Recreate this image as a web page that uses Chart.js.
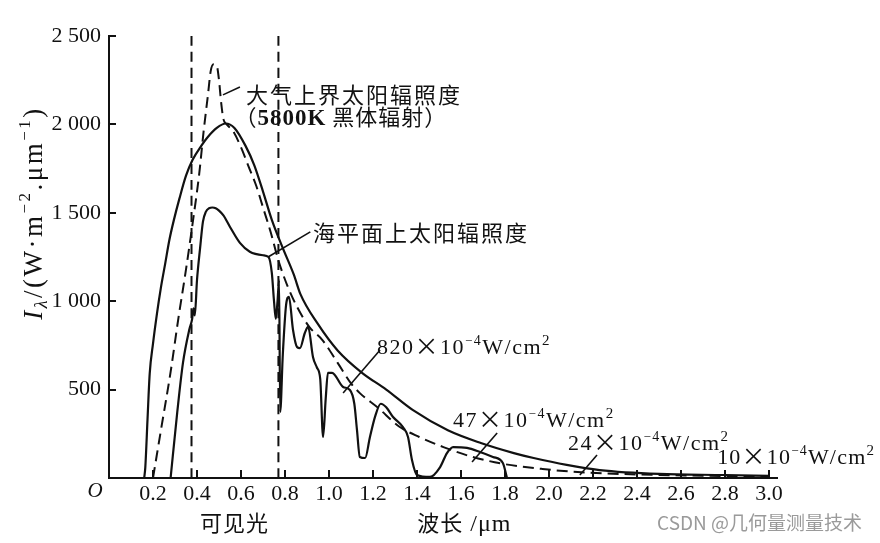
<!DOCTYPE html>
<html><head><meta charset="utf-8">
<script src="https://cdn.jsdelivr.net/npm/chart.js@4.4.1/dist/chart.umd.min.js"></script>
<style>html,body{margin:0;padding:0;background:#fff}canvas{display:block}</style>
</head><body>
<canvas id="c" width="880" height="543"></canvas>
<script>
// ---- data (wavelength in μm, irradiance in W·m^-2·μm^-1) ----
const blackbodyX = [0.16,0.165,0.175,0.185,0.2,0.218,0.235,0.255,0.275,0.295,0.32,0.35,0.38,0.42,0.45,0.49,0.53,0.57,0.62,0.66,0.7,0.74,0.79,0.84,0.87,0.95,1.04,1.15,1.26,1.38,1.54,1.69,1.84,1.93,2.08,2.23,2.5,2.8,3.0];
const blackbodyY = [0,60,330,590,760,930,1070,1210,1350,1460,1580,1710,1800,1880,1930,1980,2005,1980,1880,1770,1620,1460,1300,1150,1040,870,720,595,500,385,270,198,141,113,74,45,23,17,12];

const extraX = [0.2,0.24,0.28,0.315,0.35,0.38,0.41,0.43,0.45,0.462,0.475,0.49,0.5,0.51,0.52,0.535,0.565,0.6,0.635,0.67,0.7,0.735,0.77,0.81,0.855,0.91,0.97,1.04,1.1,1.14,1.22,1.32,1.41,1.52,1.65,1.8,1.97,2.13,2.4,2.7,3.0];
const extraY = [0,300,600,900,1180,1440,1720,1960,2170,2300,2340,2330,2250,2120,2030,2000,1960,1870,1760,1650,1530,1390,1230,1090,967,855,780,650,535,480,400,290,232,175,120,78,51,34,20,13,9];

const seaX = [0.28,0.31,0.336,0.365,0.378,0.384,0.39,0.4,0.414,0.427,0.44,0.455,0.47,0.485,0.5,0.52,0.55,0.595,0.64,0.7,0.725,0.74,0.75,0.758,0.766,0.773,0.778,0.79,0.805,0.818,0.836,0.855,0.868,0.89,0.905,0.927,0.945,0.96,0.973,0.985,0.995,1.014,1.064,1.095,1.115,1.127,1.14,1.164,1.186,1.21,1.235,1.26,1.291,1.336,1.359,1.377,1.4,1.459,1.505,1.536,1.564,1.627,1.686,1.745,1.79,1.809];
const seaY = [0,370,650,840,900,960,920,1120,1300,1450,1505,1526,1530,1526,1512,1485,1420,1330,1280,1260,1250,1160,1000,900,1000,1120,373,700,980,1025,840,740,735,820,855,685,625,560,232,450,595,595,515,498,420,272,119,113,232,350,420,400,345,288,232,102,17,6,62,141,175,170,147,119,85,0];

const visibleBounds = [0.375, 0.77];

const xTickValues = [0.2,0.4,0.6,0.8,1.0,1.2,1.4,1.6,1.8,2.0,2.2,2.4,2.6,2.8,3.0];
const xTickLabels = ["0.2","0.4","0.6","0.8","1.0","1.2","1.4","1.6","1.8","2.0","2.2","2.4","2.6","2.8","3.0"];
const yTickValues = [500,1000,1500,2000,2500];
const yTickLabels = ["500","1 000","1 500","2 000","2 500"];

// ---- helpers ----
const pts = (xs, ys) => xs.map((x, i) => ({x, y: ys[i]}));
const SERIF = '"Liberation Serif","Times New Roman",serif';
const CJK = '"Noto Sans CJK SC","Noto Sans",sans-serif';
const INK = '#111';

function rich(ctx, parts, x, y, align, spacing) {
  ctx.letterSpacing = (spacing || 0) + 'px';
  let w = 0;
  parts.forEach(p => { ctx.font = p[1]; w += ctx.measureText(p[0]).width; });
  let cx = align === 'center' ? x - w / 2 : (align === 'right' ? x - w : x);
  ctx.textAlign = 'left';
  ctx.textBaseline = 'alphabetic';
  parts.forEach(p => { ctx.font = p[1]; ctx.fillText(p[0], cx, y + (p[2] || 0)); cx += ctx.measureText(p[0]).width; });
  ctx.letterSpacing = '0px';
}

function unitLabel(lead) {
  return [[lead, '22px ' + SERIF], ['\u00d7', '24px ' + CJK, 1], ['10', '22px ' + SERIF], ['\u2212', '13px ' + SERIF, -9], ['4', '14px ' + SERIF, -9], ['W/cm', '22px ' + SERIF], ['2', '15px ' + SERIF, -9]];
}

// annotations: anchored in data coordinates (left / baseline)
const annotations = [
  {x: 0.623, y: 2121, parts: [['大气上界太阳辐照度', '22px ' + CJK]], sp: 2},
  {x: 0.57, y: 1997, parts: [['（', '22px ' + CJK], ['5800K', 'bold 23px ' + SERIF], [' 黑体辐射）', '22px ' + CJK]], sp: 1},
  {x: 0.927, y: 1341, parts: [['海平面上太阳辐照度', '22px ' + CJK]], sp: 2},
  {x: 1.218, y: 701, parts: unitLabel('820'), sp: 1.5},
  {x: 1.564, y: 288, parts: unitLabel('47'), sp: 1.5},
  {x: 2.086, y: 158, parts: unitLabel('24'), sp: 1.5},
  {x: 2.764, y: 79, parts: unitLabel('10'), sp: 1.2}
];
const leaders = [
  [0.518, 2167, 0.595, 2212],
  [0.723, 1250, 0.915, 1392],
  [1.064, 481, 1.232, 724],
  [1.65, 90, 1.764, 255],
  [2.14, 17, 2.218, 130]
];

const overlay = {
  id: 'overlay',
  afterDraw(chart) {
    const {ctx, chartArea: a, scales: {x, y}} = chart;
    ctx.save();
    ctx.strokeStyle = INK; ctx.fillStyle = INK; ctx.lineWidth = 2;
    // inward tick marks
    xTickValues.forEach(v => { const px = Math.round(x.getPixelForValue(v)); ctx.beginPath(); ctx.moveTo(px, a.bottom); ctx.lineTo(px, a.bottom - 8); ctx.stroke(); });
    yTickValues.forEach(v => { const py = Math.round(y.getPixelForValue(v)); ctx.beginPath(); ctx.moveTo(a.left, py); ctx.lineTo(a.left + 7, py); ctx.stroke(); });
    // leader lines
    ctx.lineWidth = 1.6;
    leaders.forEach(l => { ctx.beginPath(); ctx.moveTo(x.getPixelForValue(l[0]), y.getPixelForValue(l[1])); ctx.lineTo(x.getPixelForValue(l[2]), y.getPixelForValue(l[3])); ctx.stroke(); });
    // annotations
    annotations.forEach(an => rich(ctx, an.parts, x.getPixelForValue(an.x), y.getPixelForValue(an.y), 'left', an.sp));
    // origin "O"
    rich(ctx, [['O', 'italic 21px ' + SERIF]], a.left - 14, a.bottom + 19, 'center');
    // x titles
    rich(ctx, [['可见光', '22px ' + CJK]], x.getPixelForValue(0.57), 531, 'center', 1);
    rich(ctx, [['波长', '22px ' + CJK], [' /μm', '24px ' + SERIF]], x.getPixelForValue(1.615), 531, 'center', 1);
    // y title (rotated)
    ctx.save();
    ctx.translate(42, 213);
    ctx.rotate(-Math.PI / 2);
    rich(ctx, [['I', 'italic 27px ' + SERIF], ['λ', 'italic 18px ' + SERIF, 5], ['/(W·m', '27px ' + SERIF], ['\u22122', '17px ' + SERIF, -12], ['.μm', '27px ' + SERIF], ['\u22121', '17px ' + SERIF, -12], [')', '27px ' + SERIF]], 0, 0, 'center', 2.5);
    ctx.restore();
    // watermark
    ctx.fillStyle = '#9a9a9a';
    rich(ctx, [['CSDN @几何量测量技术', '19px ' + CJK]], 862, 530, 'right', 0);
    ctx.restore();
  }
};

const lineDs = (data, dash, w) => ({data, borderColor: INK, borderWidth: w || 2, borderDash: dash || [], pointRadius: 0, fill: false, cubicInterpolationMode: 'monotone', clip: false});

new Chart(document.getElementById('c'), {
  type: 'line',
  data: {
    datasets: [
      lineDs(pts(blackbodyX, blackbodyY), [], 2.2),
      lineDs(pts(extraX, extraY), [11, 6], 2),
      lineDs(pts(seaX, seaY), [], 2.2),
      lineDs(pts([visibleBounds[0], visibleBounds[0]], [0, 2500]), [10, 6], 2),
      lineDs(pts([visibleBounds[1], visibleBounds[1]], [0, 2500]), [10, 6], 2)
    ]
  },
  options: {
    responsive: false,
    animation: false,
    devicePixelRatio: 1,
    layout: {padding: {top: 36, right: 103, left: 0, bottom: 0}},
    plugins: {legend: {display: false}, tooltip: {enabled: false}},
    scales: {
      x: {
        type: 'linear', min: 0, max: 3.036,
        afterFit(s) { s.height = 65; },
        afterBuildTicks(s) { s.ticks = xTickValues.map(v => ({value: v})); },
        grid: {display: false, drawTicks: false},
        border: {display: true, color: INK, width: 2},
        ticks: {padding: 3, color: INK, font: {family: SERIF, size: 22}, maxRotation: 0, autoSkip: false,
          callback: (v, i) => xTickLabels[i]}
      },
      y: {
        type: 'linear', min: 0, max: 2500,
        afterFit(s) { s.width = 109; },
        afterBuildTicks(s) { s.ticks = yTickValues.map(v => ({value: v})); },
        grid: {display: false, drawTicks: false},
        border: {display: true, color: INK, width: 2},
        ticks: {padding: 8, color: INK, font: {family: SERIF, size: 22}, autoSkip: false,
          callback: (v, i) => yTickLabels[i]}
      }
    }
  },
  plugins: [overlay]
});
</script>
</body></html>
